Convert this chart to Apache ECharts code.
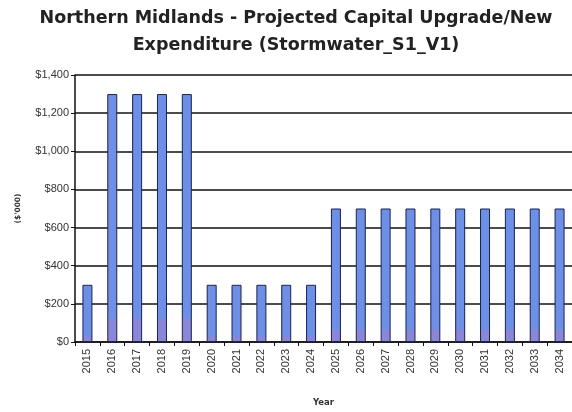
<!DOCTYPE html>
<html><head><meta charset="utf-8">
<script src="https://cdn.jsdelivr.net/npm/echarts@6/dist/echarts.min.js"></script>
<style>html,body{margin:0;padding:0;background:#fff}#c{width:572px;height:412px}</style>
</head><body><div id="c"></div>
<script>
const years = ['2015','2016','2017','2018','2019','2020','2021','2022','2023','2024','2025','2026','2027','2028','2029','2030','2031','2032','2033','2034'];
const expenditure = [300,1300,1300,1300,1300,300,300,300,300,300,700,700,700,700,700,700,700,700,700,700];
const yTicks = [0,200,400,600,800,1000,1200,1400];
const titleLines = ['Northern Midlands - Projected Capital Upgrade/New','Expenditure (Stormwater_S1_V1)'];

const chart = echarts.init(document.getElementById('c'), null, {renderer:'canvas'});
chart.setOption({
  animation:false,
  title:{text:titleLines.join('\n'), left:291, top:0, textAlign:'center',
    textStyle:{fontFamily:'DejaVu Sans', fontWeight:'bold', fontSize:17.5, lineHeight:27, color:'#222'}},
  grid:{left:75, top:75, width:506, height:280, containLabel:false},
  xAxis:{type:'category', data:years, name:'Year', nameLocation:'middle', nameGap:56,
    nameTextStyle:{fontFamily:'DejaVu Sans', fontWeight:'bold', fontSize:8.5, color:'#333'},
    axisLine:{lineStyle:{color:'#111', width:1.5}},
    axisTick:{show:true, alignWithLabel:false, length:4, lineStyle:{color:'#111'}},
    axisLabel:{rotate:90, fontFamily:'Liberation Sans', fontSize:11, color:'#333', margin:7}},
  yAxis:{type:'value', min:0, max:1400, interval:200,
    name:"($'000)", nameLocation:'middle', nameGap:53, nameRotate:90,
    nameTextStyle:{fontFamily:'DejaVu Sans', fontWeight:'bold', fontSize:7.5, color:'#333'},
    axisLine:{show:true, lineStyle:{color:'#111', width:1.5}},
    axisTick:{show:true, length:4, lineStyle:{color:'#111'}},
    splitLine:{lineStyle:{color:'#111', width:1.5}},
    axisLabel:{fontFamily:'Liberation Sans', fontSize:11, color:'#333', margin:6,
      formatter:v => yTicks.includes(v) ? '$' + v.toLocaleString('en-US') : ''}},
  series:[{type:'bar', data:expenditure, barWidth:10,
    itemStyle:{borderColor:'#1a2350', borderWidth:1,
      color:new echarts.graphic.LinearGradient(0,0,0,1,[
        {offset:0,color:'#6d8fe6'},{offset:0.9,color:'#6d8fe6'},{offset:0.91,color:'#8a86d8'},{offset:1,color:'#8a86d8'}])}}]
});
</script></body></html>
